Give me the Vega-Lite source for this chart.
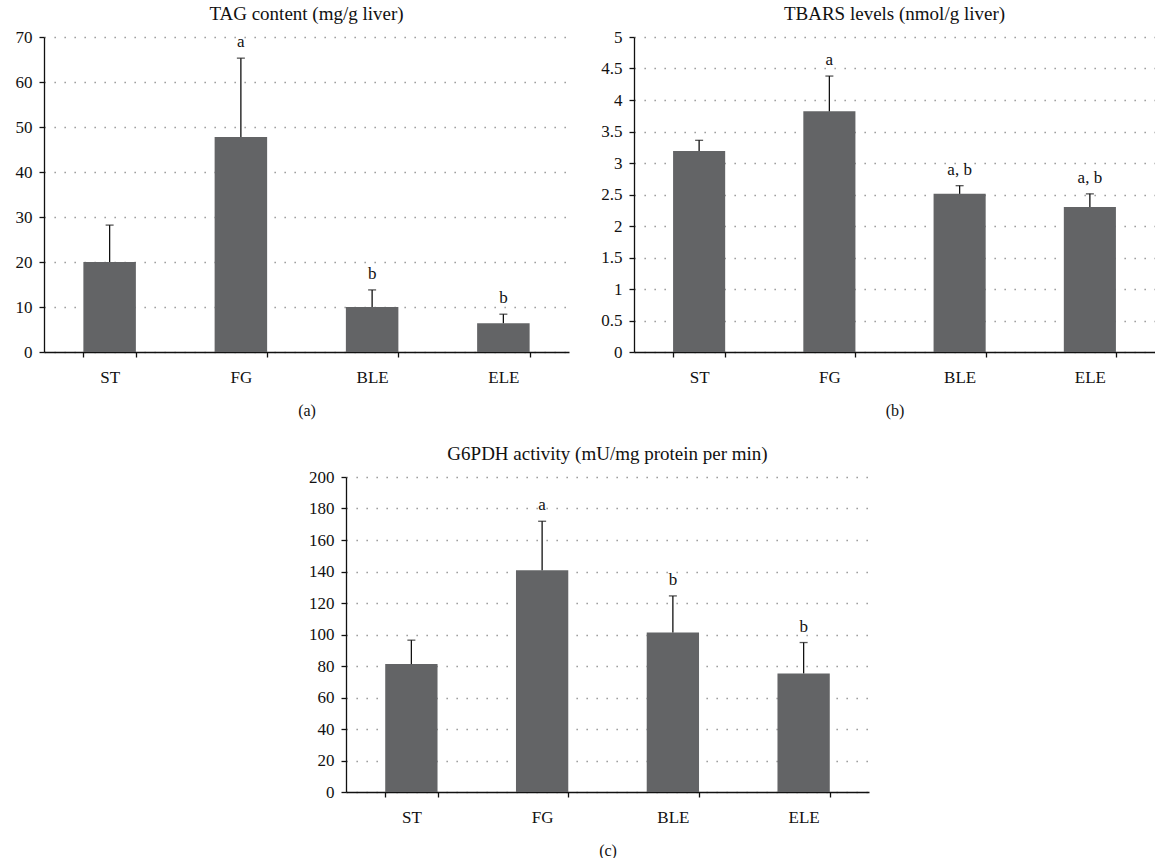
{
  "$schema": "https://vega.github.io/schema/vega-lite/v6.json",
  "background": "white",
  "padding": {"left": 0, "top": 5, "right": 0, "bottom": 0},
  "datasets": {
    "tag": [
      {"group": "ST", "mean": 20.0, "err": 28.2, "label": ""},
      {"group": "FG", "mean": 47.8, "err": 65.3, "label": "a"},
      {"group": "BLE", "mean": 10.0, "err": 13.8, "label": "b"},
      {"group": "ELE", "mean": 6.4, "err": 8.4, "label": "b"}
    ],
    "tbars": [
      {"group": "ST", "mean": 3.19, "err": 3.36, "label": ""},
      {"group": "FG", "mean": 3.82, "err": 4.38, "label": "a"},
      {"group": "BLE", "mean": 2.51, "err": 2.64, "label": "a, b"},
      {"group": "ELE", "mean": 2.30, "err": 2.51, "label": "a, b"}
    ],
    "g6pdh": [
      {"group": "ST", "mean": 81.2, "err": 96.4, "label": ""},
      {"group": "FG", "mean": 140.8, "err": 171.9, "label": "a"},
      {"group": "BLE", "mean": 101.3, "err": 124.5, "label": "b"},
      {"group": "ELE", "mean": 75.3, "err": 94.9, "label": "b"}
    ]
  },
  "vconcat": [
    {
      "hconcat": [
        {
          "title": "TAG content (mg/g liver)",
          "width": 525,
          "height": 315,
          "data": {"name": "tag"},
          "encoding": {
            "x": {"field": "group", "type": "nominal", "sort": null, "scale": {"paddingInner": 0.6, "paddingOuter": 0.3}, "axis": {"title": "(a)"}}
          },
          "layer": [
            {"mark": {"type": "bar", "color": "#636466"}, "encoding": {"y": {"field": "mean", "type": "quantitative", "title": null, "scale": {"domain": [0, 70]}, "axis": {"values": [0, 10, 20, 30, 40, 50, 60, 70], "minExtent": 44, "maxExtent": 44}}}},
            {"mark": {"type": "rule", "color": "#111", "strokeWidth": 1.3}, "encoding": {"y": {"field": "mean", "type": "quantitative", "title": null, "axis": {"values": [0, 10, 20, 30, 40, 50, 60, 70], "minExtent": 44, "maxExtent": 44}}, "y2": {"field": "err"}}},
            {"mark": {"type": "tick", "color": "#111", "size": 8, "thickness": 1.3}, "encoding": {"y": {"field": "err", "type": "quantitative", "title": null, "axis": {"values": [0, 10, 20, 30, 40, 50, 60, 70], "minExtent": 44, "maxExtent": 44}}}},
            {"mark": {"type": "text", "baseline": "bottom", "dy": -7, "fontSize": 17, "font": "Liberation Serif", "color": "#111"}, "encoding": {"y": {"field": "err", "type": "quantitative", "title": null, "axis": {"values": [0, 10, 20, 30, 40, 50, 60, 70], "minExtent": 44, "maxExtent": 44}}, "text": {"field": "label"}}}
          ]
        },
        {
          "title": "TBARS levels (nmol/g liver)",
          "width": 521,
          "height": 315,
          "data": {"name": "tbars"},
          "encoding": {
            "x": {"field": "group", "type": "nominal", "sort": null, "scale": {"paddingInner": 0.6, "paddingOuter": 0.3}, "axis": {"title": "(b)"}}
          },
          "layer": [
            {"mark": {"type": "bar", "color": "#636466"}, "encoding": {"y": {"field": "mean", "type": "quantitative", "title": null, "scale": {"domain": [0, 5]}, "axis": {"values": [0, 0.5, 1, 1.5, 2, 2.5, 3, 3.5, 4, 4.5, 5], "format": "~g", "minExtent": 30, "maxExtent": 30}}}},
            {"mark": {"type": "rule", "color": "#111", "strokeWidth": 1.3}, "encoding": {"y": {"field": "mean", "type": "quantitative", "title": null, "axis": {"values": [0, 0.5, 1, 1.5, 2, 2.5, 3, 3.5, 4, 4.5, 5], "format": "~g", "minExtent": 30, "maxExtent": 30}}, "y2": {"field": "err"}}},
            {"mark": {"type": "tick", "color": "#111", "size": 8, "thickness": 1.3}, "encoding": {"y": {"field": "err", "type": "quantitative", "title": null, "axis": {"values": [0, 0.5, 1, 1.5, 2, 2.5, 3, 3.5, 4, 4.5, 5], "format": "~g", "minExtent": 30, "maxExtent": 30}}}},
            {"mark": {"type": "text", "baseline": "bottom", "dy": -7, "fontSize": 17, "font": "Liberation Serif", "color": "#111"}, "encoding": {"y": {"field": "err", "type": "quantitative", "title": null, "axis": {"values": [0, 0.5, 1, 1.5, 2, 2.5, 3, 3.5, 4, 4.5, 5], "format": "~g", "minExtent": 30, "maxExtent": 30}}, "text": {"field": "label"}}}
          ]
        }
      ],
      "spacing": 31
    },
    {
      "hconcat": [
        {
          "width": 258,
          "height": 315,
          "data": {"values": []},
          "mark": {"type": "text", "text": ""},
          "encoding": {}
        },
        {
          "title": "G6PDH activity (mU/mg protein per min)",
          "width": 523,
          "height": 315,
          "data": {"name": "g6pdh"},
          "encoding": {
            "x": {"field": "group", "type": "nominal", "sort": null, "scale": {"paddingInner": 0.6, "paddingOuter": 0.3}, "axis": {"title": "(c)"}}
          },
          "layer": [
            {"mark": {"type": "bar", "color": "#636466"}, "encoding": {"y": {"field": "mean", "type": "quantitative", "title": null, "scale": {"domain": [0, 200]}, "axis": {"values": [0, 20, 40, 60, 80, 100, 120, 140, 160, 180, 200], "minExtent": 44, "maxExtent": 44}}}},
            {"mark": {"type": "rule", "color": "#111", "strokeWidth": 1.3}, "encoding": {"y": {"field": "mean", "type": "quantitative", "title": null, "axis": {"values": [0, 20, 40, 60, 80, 100, 120, 140, 160, 180, 200], "minExtent": 44, "maxExtent": 44}}, "y2": {"field": "err"}}},
            {"mark": {"type": "tick", "color": "#111", "size": 8, "thickness": 1.3}, "encoding": {"y": {"field": "err", "type": "quantitative", "title": null, "axis": {"values": [0, 20, 40, 60, 80, 100, 120, 140, 160, 180, 200], "minExtent": 44, "maxExtent": 44}}}},
            {"mark": {"type": "text", "baseline": "bottom", "dy": -7, "fontSize": 17, "font": "Liberation Serif", "color": "#111"}, "encoding": {"y": {"field": "err", "type": "quantitative", "title": null, "axis": {"values": [0, 20, 40, 60, 80, 100, 120, 140, 160, 180, 200], "minExtent": 44, "maxExtent": 44}}, "text": {"field": "label"}}}
          ]
        }
      ],
      "spacing": 0
    }
  ],
  "spacing": 27,
  "config": {
    "font": "Liberation Serif",
    "view": {"stroke": null},
    "axis": {
      "labelFont": "Liberation Serif",
      "titleFont": "Liberation Serif",
      "labelColor": "#111",
      "titleColor": "#111",
      "domainColor": "#111",
      "tickColor": "#111",
      "domainWidth": 1.3,
      "tickWidth": 1.3,
      "titleFontWeight": "normal",
      "labelOverlap": false
    },
    "axisY": {
      "grid": true,
      "gridColor": "#888888",
      "gridDash": [1.3, 8.7],
      "gridWidth": 1.3,
      "tickSize": 5,
      "labelPadding": 7,
      "labelFontSize": 17
    },
    "axisX": {
      "grid": false,
      "tickBand": "extent",
      "tickSize": 5,
      "labelPadding": 12,
      "labelFontSize": 17,
      "labelAngle": 0,
      "titleFontSize": 16,
      "titlePadding": 17
    },
    "title": {"font": "Liberation Serif", "fontSize": 19, "fontWeight": "normal", "color": "#111"}
  }
}
